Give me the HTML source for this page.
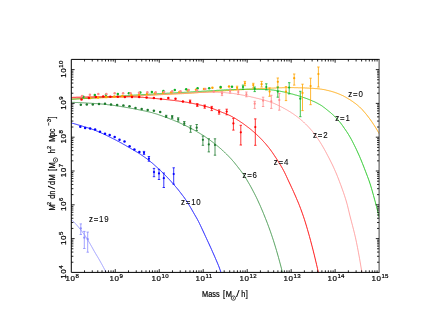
<!DOCTYPE html><html><head><meta charset="utf-8"><title>Halo mass function</title><style>html,body{margin:0;padding:0;background:#fff}svg{display:block}text{font-family:"Liberation Sans",sans-serif;fill:#000}</style></head><body>
<svg width="430" height="332" viewBox="0 0 430 332">
<rect width="430" height="332" fill="#fff"/>
<defs><clipPath id="c"><rect x="71.3" y="59.4" width="307.8" height="212.99999999999997"/></clipPath></defs>
<g clip-path="url(#c)" fill="none" stroke-linejoin="round">
<path d="M71.5,99.1 L72.5,99.1 L73.5,99.0 L74.5,99.0 L75.5,98.9 L76.5,98.9 L77.5,98.9 L78.5,98.8 L79.5,98.8 L80.5,98.7 L81.5,98.7 L82.5,98.7 L83.5,98.6 L84.5,98.6 L85.5,98.5 L86.5,98.5 L87.5,98.4 L88.5,98.4 L89.5,98.4 L90.5,98.3 L91.5,98.3 L92.5,98.2 L93.5,98.2 L94.5,98.1 L95.5,98.1 L96.5,98.1 L97.5,98.0 L98.5,98.0 L99.5,97.9 L100.5,97.9 L101.5,97.8 L102.5,97.8 L103.5,97.7 L104.5,97.7 L105.5,97.7 L106.5,97.6 L107.5,97.6 L108.5,97.5 L109.5,97.5 L110.5,97.4 L111.5,97.4 L112.5,97.3 L113.5,97.3 L114.5,97.2 L115.5,97.2 L116.5,97.1 L117.5,97.1 L118.5,97.1 L119.5,97.0 L120.5,97.0 L121.5,96.9 L122.5,96.9 L123.5,96.8 L124.5,96.7 L125.5,96.7 L126.5,96.6 L127.5,96.6 L128.5,96.5 L129.5,96.5 L130.5,96.4 L131.5,96.4 L132.5,96.3 L133.5,96.2 L134.5,96.2 L135.5,96.1 L136.5,96.0 L137.5,96.0 L138.5,95.9 L139.5,95.8 L140.5,95.8 L141.5,95.7 L142.5,95.7 L143.5,95.6 L144.5,95.5 L145.5,95.5 L146.5,95.4 L147.5,95.3 L148.5,95.3 L149.5,95.2 L150.5,95.2 L151.5,95.1 L152.5,95.1 L153.5,95.0 L154.5,95.0 L155.5,94.9 L156.5,94.9 L157.5,94.8 L158.5,94.8 L159.5,94.7 L160.5,94.7 L161.5,94.6 L162.5,94.6 L163.5,94.5 L164.5,94.5 L165.5,94.5 L166.5,94.4 L167.5,94.4 L168.5,94.3 L169.5,94.3 L170.5,94.2 L171.5,94.2 L172.5,94.1 L173.5,94.1 L174.5,94.0 L175.5,94.0 L176.5,93.9 L177.5,93.9 L178.5,93.8 L179.5,93.8 L180.5,93.7 L181.5,93.7 L182.5,93.6 L183.5,93.6 L184.5,93.5 L185.5,93.5 L186.5,93.4 L187.5,93.4 L188.5,93.3 L189.5,93.2 L190.5,93.2 L191.5,93.1 L192.5,93.0 L193.5,93.0 L194.5,92.9 L195.5,92.8 L196.5,92.8 L197.5,92.7 L198.5,92.6 L199.5,92.5 L200.5,92.5 L201.5,92.4 L202.5,92.3 L203.5,92.3 L204.5,92.2 L205.5,92.1 L206.5,92.0 L207.5,92.0 L208.5,91.9 L209.5,91.8 L210.5,91.8 L211.5,91.7 L212.5,91.6 L213.5,91.6 L214.5,91.5 L215.5,91.4 L216.5,91.3 L217.5,91.3 L218.5,91.2 L219.5,91.1 L220.5,91.1 L221.5,91.0 L222.5,90.9 L223.5,90.8 L224.5,90.8 L225.5,90.7 L226.5,90.6 L227.5,90.6 L228.5,90.5 L229.5,90.4 L230.5,90.4 L231.5,90.3 L232.5,90.2 L233.5,90.2 L234.5,90.1 L235.5,90.1 L236.5,90.0 L237.5,89.9 L238.5,89.9 L239.5,89.8 L240.5,89.7 L241.5,89.7 L242.5,89.6 L243.5,89.6 L244.5,89.5 L245.5,89.5 L246.5,89.4 L247.5,89.3 L248.5,89.3 L249.5,89.2 L250.5,89.2 L251.5,89.1 L252.5,89.1 L253.5,89.0 L254.5,89.0 L255.5,88.9 L256.5,88.8 L257.5,88.8 L258.5,88.7 L259.5,88.7 L260.5,88.6 L261.5,88.6 L262.5,88.5 L263.5,88.5 L264.5,88.4 L265.5,88.4 L266.5,88.3 L267.5,88.3 L268.5,88.3 L269.5,88.2 L270.5,88.2 L271.5,88.1 L272.5,88.1 L273.5,88.1 L274.5,88.0 L275.5,88.0 L276.5,87.9 L277.5,87.9 L278.5,87.9 L279.5,87.8 L280.5,87.8 L281.5,87.8 L282.5,87.7 L283.5,87.7 L284.5,87.7 L285.5,87.6 L286.5,87.6 L287.5,87.6 L288.5,87.6 L289.5,87.6 L290.5,87.6 L291.5,87.6 L292.5,87.6 L293.5,87.6 L294.5,87.7 L295.5,87.7 L296.5,87.7 L297.5,87.7 L298.5,87.8 L299.5,87.8 L300.5,87.8 L301.5,87.8 L302.5,87.9 L303.5,87.9 L304.5,87.9 L305.5,88.0 L306.5,88.0 L307.5,88.1 L308.5,88.1 L309.5,88.2 L310.5,88.2 L311.5,88.3 L312.5,88.3 L313.5,88.4 L314.5,88.5 L315.5,88.6 L316.5,88.6 L317.5,88.7 L318.5,88.8 L319.5,88.9 L320.5,89.1 L321.5,89.2 L322.5,89.4 L323.5,89.5 L324.5,89.7 L325.5,89.9 L326.5,90.2 L327.5,90.4 L328.5,90.6 L329.5,90.9 L330.5,91.1 L331.5,91.4 L332.5,91.7 L333.5,92.0 L334.5,92.3 L335.5,92.7 L336.5,93.0 L337.5,93.4 L338.5,93.8 L339.5,94.2 L340.5,94.6 L341.5,95.1 L342.5,95.5 L343.5,96.0 L344.5,96.6 L345.5,97.1 L346.5,97.7 L347.5,98.3 L348.5,98.9 L349.5,99.5 L350.5,100.1 L351.5,100.8 L352.5,101.4 L353.5,102.2 L354.5,102.9 L355.5,103.6 L356.5,104.4 L357.5,105.2 L358.5,106.1 L359.5,106.9 L360.5,107.9 L361.5,108.9 L362.5,109.9 L363.5,111.1 L364.5,112.2 L365.5,113.4 L366.5,114.6 L367.5,115.9 L368.5,117.2 L369.5,118.5 L370.5,119.9 L371.5,121.3 L372.5,122.8 L373.5,124.3 L374.5,125.8 L375.5,127.4 L376.5,129.0 L377.5,130.7 L378.5,132.4 L379.4,134.0" stroke="#ffa500" stroke-width="0.9"/>
<path d="M71.5,99.2 L72.5,99.1 L73.5,99.1 L74.5,99.0 L75.5,99.0 L76.5,98.9 L77.5,98.8 L78.5,98.8 L79.5,98.7 L80.5,98.6 L81.5,98.6 L82.5,98.5 L83.5,98.5 L84.5,98.4 L85.5,98.3 L86.5,98.3 L87.5,98.2 L88.5,98.1 L89.5,98.1 L90.5,98.0 L91.5,97.9 L92.5,97.9 L93.5,97.8 L94.5,97.8 L95.5,97.7 L96.5,97.6 L97.5,97.6 L98.5,97.5 L99.5,97.4 L100.5,97.4 L101.5,97.3 L102.5,97.2 L103.5,97.2 L104.5,97.1 L105.5,97.0 L106.5,97.0 L107.5,96.9 L108.5,96.8 L109.5,96.8 L110.5,96.7 L111.5,96.6 L112.5,96.6 L113.5,96.5 L114.5,96.4 L115.5,96.4 L116.5,96.3 L117.5,96.2 L118.5,96.2 L119.5,96.1 L120.5,96.0 L121.5,96.0 L122.5,95.9 L123.5,95.8 L124.5,95.8 L125.5,95.7 L126.5,95.7 L127.5,95.6 L128.5,95.5 L129.5,95.5 L130.5,95.4 L131.5,95.3 L132.5,95.3 L133.5,95.2 L134.5,95.1 L135.5,95.1 L136.5,95.0 L137.5,95.0 L138.5,94.9 L139.5,94.8 L140.5,94.8 L141.5,94.7 L142.5,94.6 L143.5,94.6 L144.5,94.5 L145.5,94.5 L146.5,94.4 L147.5,94.3 L148.5,94.3 L149.5,94.2 L150.5,94.2 L151.5,94.1 L152.5,94.1 L153.5,94.0 L154.5,93.9 L155.5,93.9 L156.5,93.8 L157.5,93.8 L158.5,93.7 L159.5,93.7 L160.5,93.6 L161.5,93.6 L162.5,93.5 L163.5,93.5 L164.5,93.4 L165.5,93.4 L166.5,93.3 L167.5,93.2 L168.5,93.2 L169.5,93.1 L170.5,93.1 L171.5,93.0 L172.5,93.0 L173.5,92.9 L174.5,92.9 L175.5,92.8 L176.5,92.8 L177.5,92.7 L178.5,92.7 L179.5,92.6 L180.5,92.6 L181.5,92.5 L182.5,92.4 L183.5,92.4 L184.5,92.3 L185.5,92.3 L186.5,92.2 L187.5,92.2 L188.5,92.1 L189.5,92.0 L190.5,92.0 L191.5,91.9 L192.5,91.9 L193.5,91.8 L194.5,91.7 L195.5,91.7 L196.5,91.6 L197.5,91.6 L198.5,91.5 L199.5,91.4 L200.5,91.4 L201.5,91.3 L202.5,91.2 L203.5,91.2 L204.5,91.1 L205.5,91.1 L206.5,91.0 L207.5,90.9 L208.5,90.9 L209.5,90.8 L210.5,90.8 L211.5,90.7 L212.5,90.7 L213.5,90.6 L214.5,90.5 L215.5,90.5 L216.5,90.4 L217.5,90.3 L218.5,90.3 L219.5,90.2 L220.5,90.2 L221.5,90.1 L222.5,90.0 L223.5,90.0 L224.5,89.9 L225.5,89.9 L226.5,89.8 L227.5,89.8 L228.5,89.8 L229.5,89.7 L230.5,89.7 L231.5,89.6 L232.5,89.6 L233.5,89.6 L234.5,89.5 L235.5,89.5 L236.5,89.5 L237.5,89.4 L238.5,89.4 L239.5,89.4 L240.5,89.3 L241.5,89.3 L242.5,89.3 L243.5,89.3 L244.5,89.3 L245.5,89.2 L246.5,89.2 L247.5,89.2 L248.5,89.2 L249.5,89.2 L250.5,89.2 L251.5,89.2 L252.5,89.2 L253.5,89.2 L254.5,89.2 L255.5,89.3 L256.5,89.3 L257.5,89.3 L258.5,89.3 L259.5,89.4 L260.5,89.4 L261.5,89.4 L262.5,89.5 L263.5,89.5 L264.5,89.5 L265.5,89.6 L266.5,89.6 L267.5,89.7 L268.5,89.7 L269.5,89.8 L270.5,89.8 L271.5,89.9 L272.5,90.0 L273.5,90.1 L274.5,90.3 L275.5,90.4 L276.5,90.6 L277.5,90.8 L278.5,90.9 L279.5,91.1 L280.5,91.3 L281.5,91.5 L282.5,91.7 L283.5,91.9 L284.5,92.1 L285.5,92.4 L286.5,92.6 L287.5,92.9 L288.5,93.1 L289.5,93.4 L290.5,93.6 L291.5,93.9 L292.5,94.1 L293.5,94.4 L294.5,94.7 L295.5,95.0 L296.5,95.2 L297.5,95.5 L298.5,95.8 L299.5,96.1 L300.5,96.5 L301.5,96.8 L302.5,97.1 L303.5,97.5 L304.5,97.8 L305.5,98.2 L306.5,98.5 L307.5,98.9 L308.5,99.3 L309.5,99.7 L310.5,100.1 L311.5,100.5 L312.5,101.0 L313.5,101.4 L314.5,101.8 L315.5,102.3 L316.5,102.8 L317.5,103.3 L318.5,103.9 L319.5,104.4 L320.5,105.0 L321.5,105.6 L322.5,106.3 L323.5,107.1 L324.5,107.8 L325.5,108.6 L326.5,109.4 L327.5,110.2 L328.5,111.0 L329.5,111.8 L330.5,112.6 L331.5,113.5 L332.5,114.4 L333.5,115.3 L334.5,116.2 L335.5,117.2 L336.5,118.2 L337.5,119.3 L338.5,120.5 L339.5,121.7 L340.5,122.9 L341.5,124.2 L342.5,125.6 L343.5,127.0 L344.5,128.5 L345.5,129.9 L346.5,131.4 L347.5,132.9 L348.5,134.5 L349.5,136.2 L350.5,137.9 L351.5,139.7 L352.5,141.6 L353.5,143.6 L354.5,145.6 L355.5,147.6 L356.5,149.7 L357.5,151.9 L358.5,154.1 L359.5,156.3 L360.5,158.7 L361.5,161.1 L362.5,163.6 L363.5,166.1 L364.5,168.7 L365.5,171.3 L366.5,173.9 L367.5,176.5 L368.5,179.2 L369.5,182.0 L370.5,185.1 L371.5,188.4 L372.5,191.9 L373.5,195.5 L374.5,199.2 L375.5,202.8 L376.5,206.6 L377.5,210.5 L378.5,214.4 L379.4,218.0" stroke="#1cc41c" stroke-width="0.9"/>
<path d="M71.5,98.1 L72.5,98.1 L73.5,98.0 L74.5,98.0 L75.5,98.0 L76.5,98.0 L77.5,97.9 L78.5,97.9 L79.5,97.9 L80.5,97.8 L81.5,97.8 L82.5,97.8 L83.5,97.7 L84.5,97.7 L85.5,97.7 L86.5,97.6 L87.5,97.6 L88.5,97.6 L89.5,97.5 L90.5,97.5 L91.5,97.5 L92.5,97.5 L93.5,97.4 L94.5,97.4 L95.5,97.4 L96.5,97.3 L97.5,97.3 L98.5,97.3 L99.5,97.2 L100.5,97.2 L101.5,97.1 L102.5,97.1 L103.5,97.1 L104.5,97.0 L105.5,97.0 L106.5,97.0 L107.5,96.9 L108.5,96.9 L109.5,96.9 L110.5,96.8 L111.5,96.8 L112.5,96.8 L113.5,96.7 L114.5,96.7 L115.5,96.7 L116.5,96.6 L117.5,96.6 L118.5,96.5 L119.5,96.5 L120.5,96.5 L121.5,96.4 L122.5,96.4 L123.5,96.3 L124.5,96.3 L125.5,96.3 L126.5,96.2 L127.5,96.2 L128.5,96.1 L129.5,96.1 L130.5,96.0 L131.5,96.0 L132.5,95.9 L133.5,95.9 L134.5,95.8 L135.5,95.8 L136.5,95.7 L137.5,95.7 L138.5,95.6 L139.5,95.6 L140.5,95.5 L141.5,95.5 L142.5,95.4 L143.5,95.4 L144.5,95.3 L145.5,95.2 L146.5,95.2 L147.5,95.1 L148.5,95.1 L149.5,95.0 L150.5,95.0 L151.5,94.9 L152.5,94.9 L153.5,94.8 L154.5,94.8 L155.5,94.7 L156.5,94.7 L157.5,94.6 L158.5,94.5 L159.5,94.5 L160.5,94.4 L161.5,94.4 L162.5,94.3 L163.5,94.3 L164.5,94.2 L165.5,94.2 L166.5,94.1 L167.5,94.1 L168.5,94.0 L169.5,94.0 L170.5,93.9 L171.5,93.9 L172.5,93.8 L173.5,93.7 L174.5,93.7 L175.5,93.6 L176.5,93.6 L177.5,93.5 L178.5,93.5 L179.5,93.4 L180.5,93.4 L181.5,93.3 L182.5,93.3 L183.5,93.2 L184.5,93.2 L185.5,93.1 L186.5,93.1 L187.5,93.0 L188.5,92.9 L189.5,92.9 L190.5,92.8 L191.5,92.8 L192.5,92.7 L193.5,92.7 L194.5,92.6 L195.5,92.6 L196.5,92.5 L197.5,92.5 L198.5,92.4 L199.5,92.4 L200.5,92.4 L201.5,92.4 L202.5,92.3 L203.5,92.3 L204.5,92.3 L205.5,92.3 L206.5,92.2 L207.5,92.2 L208.5,92.2 L209.5,92.2 L210.5,92.2 L211.5,92.2 L212.5,92.2 L213.5,92.2 L214.5,92.3 L215.5,92.3 L216.5,92.3 L217.5,92.3 L218.5,92.4 L219.5,92.4 L220.5,92.4 L221.5,92.5 L222.5,92.5 L223.5,92.6 L224.5,92.6 L225.5,92.7 L226.5,92.8 L227.5,92.9 L228.5,93.0 L229.5,93.1 L230.5,93.2 L231.5,93.3 L232.5,93.4 L233.5,93.5 L234.5,93.7 L235.5,93.8 L236.5,94.0 L237.5,94.2 L238.5,94.4 L239.5,94.5 L240.5,94.7 L241.5,94.9 L242.5,95.1 L243.5,95.3 L244.5,95.5 L245.5,95.7 L246.5,95.9 L247.5,96.1 L248.5,96.3 L249.5,96.5 L250.5,96.7 L251.5,97.0 L252.5,97.2 L253.5,97.4 L254.5,97.7 L255.5,97.9 L256.5,98.2 L257.5,98.4 L258.5,98.6 L259.5,98.9 L260.5,99.1 L261.5,99.4 L262.5,99.7 L263.5,99.9 L264.5,100.2 L265.5,100.5 L266.5,100.8 L267.5,101.1 L268.5,101.4 L269.5,101.7 L270.5,102.1 L271.5,102.4 L272.5,102.8 L273.5,103.2 L274.5,103.6 L275.5,104.1 L276.5,104.5 L277.5,105.0 L278.5,105.5 L279.5,106.0 L280.5,106.5 L281.5,107.0 L282.5,107.5 L283.5,108.1 L284.5,108.6 L285.5,109.2 L286.5,109.7 L287.5,110.3 L288.5,110.9 L289.5,111.5 L290.5,112.1 L291.5,112.8 L292.5,113.4 L293.5,114.1 L294.5,114.8 L295.5,115.5 L296.5,116.3 L297.5,117.0 L298.5,117.8 L299.5,118.6 L300.5,119.4 L301.5,120.3 L302.5,121.1 L303.5,122.0 L304.5,123.0 L305.5,123.9 L306.5,124.9 L307.5,125.9 L308.5,127.0 L309.5,128.0 L310.5,129.2 L311.5,130.3 L312.5,131.5 L313.5,132.8 L314.5,134.1 L315.5,135.4 L316.5,136.8 L317.5,138.3 L318.5,139.7 L319.5,141.2 L320.5,142.8 L321.5,144.4 L322.5,146.1 L323.5,147.8 L324.5,149.6 L325.5,151.4 L326.5,153.3 L327.5,155.2 L328.5,157.1 L329.5,159.0 L330.5,161.0 L331.5,163.0 L332.5,165.0 L333.5,167.2 L334.5,169.4 L335.5,171.7 L336.5,174.0 L337.5,176.5 L338.5,179.0 L339.5,181.7 L340.5,184.3 L341.5,187.0 L342.5,189.8 L343.5,192.6 L344.5,195.6 L345.5,198.7 L346.5,202.0 L347.5,205.7 L348.5,209.8 L349.5,214.0 L350.5,218.0 L351.5,221.8 L352.5,225.6 L353.5,229.5 L354.5,233.5 L355.5,237.8 L356.5,242.5 L357.5,247.5 L358.5,252.8 L359.5,258.3 L360.5,264.1 L361.5,270.1 L361.9,272.6" stroke="#ff8a8a" stroke-width="0.75"/>
<path d="M71.5,97.4 L72.5,97.4 L73.5,97.3 L74.5,97.3 L75.5,97.3 L76.5,97.2 L77.5,97.2 L78.5,97.2 L79.5,97.2 L80.5,97.1 L81.5,97.1 L82.5,97.1 L83.5,97.0 L84.5,97.0 L85.5,97.0 L86.5,97.0 L87.5,96.9 L88.5,96.9 L89.5,96.9 L90.5,96.9 L91.5,96.9 L92.5,96.9 L93.5,96.8 L94.5,96.8 L95.5,96.8 L96.5,96.8 L97.5,96.8 L98.5,96.8 L99.5,96.8 L100.5,96.8 L101.5,96.8 L102.5,96.8 L103.5,96.8 L104.5,96.8 L105.5,96.8 L106.5,96.8 L107.5,96.8 L108.5,96.8 L109.5,96.8 L110.5,96.8 L111.5,96.8 L112.5,96.8 L113.5,96.8 L114.5,96.8 L115.5,96.8 L116.5,96.8 L117.5,96.8 L118.5,96.8 L119.5,96.8 L120.5,96.8 L121.5,96.8 L122.5,96.8 L123.5,96.8 L124.5,96.8 L125.5,96.8 L126.5,96.8 L127.5,96.8 L128.5,96.8 L129.5,96.8 L130.5,96.8 L131.5,96.9 L132.5,96.9 L133.5,96.9 L134.5,97.0 L135.5,97.0 L136.5,97.0 L137.5,97.1 L138.5,97.1 L139.5,97.2 L140.5,97.2 L141.5,97.3 L142.5,97.3 L143.5,97.4 L144.5,97.5 L145.5,97.6 L146.5,97.7 L147.5,97.8 L148.5,97.9 L149.5,98.0 L150.5,98.1 L151.5,98.2 L152.5,98.3 L153.5,98.4 L154.5,98.4 L155.5,98.5 L156.5,98.6 L157.5,98.7 L158.5,98.8 L159.5,98.9 L160.5,99.0 L161.5,99.1 L162.5,99.2 L163.5,99.3 L164.5,99.4 L165.5,99.5 L166.5,99.6 L167.5,99.7 L168.5,99.8 L169.5,99.9 L170.5,100.1 L171.5,100.2 L172.5,100.3 L173.5,100.4 L174.5,100.5 L175.5,100.7 L176.5,100.8 L177.5,100.9 L178.5,101.0 L179.5,101.2 L180.5,101.3 L181.5,101.5 L182.5,101.6 L183.5,101.8 L184.5,101.9 L185.5,102.1 L186.5,102.2 L187.5,102.4 L188.5,102.6 L189.5,102.8 L190.5,103.0 L191.5,103.2 L192.5,103.4 L193.5,103.6 L194.5,103.8 L195.5,104.0 L196.5,104.2 L197.5,104.4 L198.5,104.7 L199.5,104.9 L200.5,105.1 L201.5,105.3 L202.5,105.6 L203.5,105.8 L204.5,106.1 L205.5,106.3 L206.5,106.6 L207.5,106.9 L208.5,107.2 L209.5,107.5 L210.5,107.8 L211.5,108.1 L212.5,108.5 L213.5,108.9 L214.5,109.3 L215.5,109.7 L216.5,110.1 L217.5,110.5 L218.5,110.9 L219.5,111.3 L220.5,111.7 L221.5,112.1 L222.5,112.5 L223.5,112.9 L224.5,113.2 L225.5,113.6 L226.5,114.0 L227.5,114.5 L228.5,114.9 L229.5,115.4 L230.5,115.8 L231.5,116.4 L232.5,116.9 L233.5,117.5 L234.5,118.0 L235.5,118.6 L236.5,119.3 L237.5,119.9 L238.5,120.5 L239.5,121.2 L240.5,121.9 L241.5,122.5 L242.5,123.2 L243.5,123.9 L244.5,124.6 L245.5,125.4 L246.5,126.1 L247.5,126.9 L248.5,127.6 L249.5,128.4 L250.5,129.2 L251.5,130.0 L252.5,130.9 L253.5,131.7 L254.5,132.6 L255.5,133.5 L256.5,134.4 L257.5,135.3 L258.5,136.3 L259.5,137.3 L260.5,138.3 L261.5,139.3 L262.5,140.4 L263.5,141.5 L264.5,142.6 L265.5,143.7 L266.5,144.9 L267.5,146.1 L268.5,147.3 L269.5,148.6 L270.5,149.9 L271.5,151.3 L272.5,152.7 L273.5,154.2 L274.5,155.7 L275.5,157.2 L276.5,158.7 L277.5,160.3 L278.5,161.9 L279.5,163.5 L280.5,165.1 L281.5,166.8 L282.5,168.5 L283.5,170.4 L284.5,172.3 L285.5,174.4 L286.5,176.5 L287.5,178.7 L288.5,180.9 L289.5,183.0 L290.5,185.1 L291.5,187.3 L292.5,189.4 L293.5,191.6 L294.5,193.9 L295.5,196.1 L296.5,198.5 L297.5,200.8 L298.5,203.2 L299.5,205.7 L300.5,208.3 L301.5,211.0 L302.5,213.8 L303.5,216.7 L304.5,219.7 L305.5,222.9 L306.5,226.2 L307.5,229.6 L308.5,233.1 L309.5,236.6 L310.5,240.3 L311.5,244.1 L312.5,247.9 L313.5,251.9 L314.5,255.9 L315.5,260.1 L316.5,264.3 L317.5,268.6 L318.4,272.6" stroke="#ff0000" stroke-width="0.9"/>
<path d="M71.5,102.3 L72.5,102.3 L73.5,102.4 L74.5,102.4 L75.5,102.5 L76.5,102.5 L77.5,102.5 L78.5,102.6 L79.5,102.6 L80.5,102.7 L81.5,102.7 L82.5,102.8 L83.5,102.8 L84.5,102.9 L85.5,102.9 L86.5,103.0 L87.5,103.1 L88.5,103.1 L89.5,103.2 L90.5,103.2 L91.5,103.3 L92.5,103.4 L93.5,103.4 L94.5,103.5 L95.5,103.6 L96.5,103.6 L97.5,103.7 L98.5,103.8 L99.5,103.9 L100.5,103.9 L101.5,104.0 L102.5,104.1 L103.5,104.2 L104.5,104.3 L105.5,104.4 L106.5,104.5 L107.5,104.7 L108.5,104.8 L109.5,104.9 L110.5,105.0 L111.5,105.1 L112.5,105.3 L113.5,105.4 L114.5,105.5 L115.5,105.7 L116.5,105.8 L117.5,106.0 L118.5,106.1 L119.5,106.3 L120.5,106.4 L121.5,106.6 L122.5,106.8 L123.5,106.9 L124.5,107.1 L125.5,107.3 L126.5,107.5 L127.5,107.6 L128.5,107.8 L129.5,108.0 L130.5,108.2 L131.5,108.4 L132.5,108.5 L133.5,108.7 L134.5,108.9 L135.5,109.1 L136.5,109.3 L137.5,109.5 L138.5,109.7 L139.5,109.9 L140.5,110.1 L141.5,110.3 L142.5,110.5 L143.5,110.7 L144.5,110.9 L145.5,111.1 L146.5,111.4 L147.5,111.6 L148.5,111.8 L149.5,112.0 L150.5,112.3 L151.5,112.5 L152.5,112.8 L153.5,113.1 L154.5,113.4 L155.5,113.7 L156.5,114.0 L157.5,114.3 L158.5,114.7 L159.5,115.0 L160.5,115.4 L161.5,115.7 L162.5,116.1 L163.5,116.5 L164.5,116.8 L165.5,117.2 L166.5,117.5 L167.5,117.9 L168.5,118.3 L169.5,118.7 L170.5,119.1 L171.5,119.4 L172.5,119.8 L173.5,120.2 L174.5,120.7 L175.5,121.1 L176.5,121.5 L177.5,121.9 L178.5,122.4 L179.5,122.8 L180.5,123.3 L181.5,123.7 L182.5,124.2 L183.5,124.7 L184.5,125.1 L185.5,125.6 L186.5,126.1 L187.5,126.6 L188.5,127.1 L189.5,127.6 L190.5,128.1 L191.5,128.7 L192.5,129.2 L193.5,129.7 L194.5,130.3 L195.5,130.8 L196.5,131.4 L197.5,132.0 L198.5,132.6 L199.5,133.2 L200.5,133.8 L201.5,134.4 L202.5,135.0 L203.5,135.7 L204.5,136.3 L205.5,137.0 L206.5,137.7 L207.5,138.4 L208.5,139.1 L209.5,139.8 L210.5,140.5 L211.5,141.3 L212.5,142.0 L213.5,142.8 L214.5,143.6 L215.5,144.4 L216.5,145.2 L217.5,146.0 L218.5,146.8 L219.5,147.7 L220.5,148.5 L221.5,149.4 L222.5,150.3 L223.5,151.3 L224.5,152.2 L225.5,153.2 L226.5,154.1 L227.5,155.1 L228.5,156.1 L229.5,157.2 L230.5,158.2 L231.5,159.3 L232.5,160.5 L233.5,161.6 L234.5,162.8 L235.5,164.1 L236.5,165.3 L237.5,166.6 L238.5,167.9 L239.5,169.2 L240.5,170.4 L241.5,171.8 L242.5,173.1 L243.5,174.6 L244.5,176.1 L245.5,177.7 L246.5,179.3 L247.5,181.0 L248.5,182.7 L249.5,184.4 L250.5,186.2 L251.5,188.0 L252.5,189.9 L253.5,191.8 L254.5,193.7 L255.5,195.7 L256.5,197.7 L257.5,199.8 L258.5,202.0 L259.5,204.2 L260.5,206.4 L261.5,208.8 L262.5,211.1 L263.5,213.5 L264.5,216.0 L265.5,218.5 L266.5,221.0 L267.5,223.6 L268.5,226.3 L269.5,229.0 L270.5,231.8 L271.5,234.7 L272.5,237.7 L273.5,240.7 L274.5,243.9 L275.5,247.2 L276.5,250.5 L277.5,254.0 L278.5,257.5 L279.5,261.2 L280.5,264.9 L281.5,268.7 L282.5,272.6" stroke="#2e8b3a" stroke-width="0.8"/>
<path d="M71.5,123.0 L72.5,123.3 L73.5,123.5 L74.5,123.8 L75.5,124.1 L76.5,124.4 L77.5,124.7 L78.5,125.0 L79.5,125.3 L80.5,125.5 L81.5,125.8 L82.5,126.2 L83.5,126.5 L84.5,126.8 L85.5,127.1 L86.5,127.4 L87.5,127.7 L88.5,128.0 L89.5,128.3 L90.5,128.7 L91.5,129.0 L92.5,129.4 L93.5,129.7 L94.5,130.1 L95.5,130.5 L96.5,130.9 L97.5,131.3 L98.5,131.8 L99.5,132.2 L100.5,132.6 L101.5,133.1 L102.5,133.5 L103.5,134.0 L104.5,134.5 L105.5,134.9 L106.5,135.4 L107.5,135.9 L108.5,136.4 L109.5,136.9 L110.5,137.4 L111.5,137.9 L112.5,138.4 L113.5,138.9 L114.5,139.4 L115.5,139.9 L116.5,140.4 L117.5,141.0 L118.5,141.5 L119.5,142.0 L120.5,142.6 L121.5,143.1 L122.5,143.7 L123.5,144.3 L124.5,144.8 L125.5,145.4 L126.5,146.0 L127.5,146.6 L128.5,147.2 L129.5,147.7 L130.5,148.3 L131.5,148.9 L132.5,149.5 L133.5,150.1 L134.5,150.6 L135.5,151.2 L136.5,151.8 L137.5,152.4 L138.5,153.0 L139.5,153.7 L140.5,154.3 L141.5,155.0 L142.5,155.7 L143.5,156.4 L144.5,157.1 L145.5,157.8 L146.5,158.5 L147.5,159.3 L148.5,160.1 L149.5,160.9 L150.5,161.7 L151.5,162.5 L152.5,163.3 L153.5,164.2 L154.5,165.1 L155.5,166.0 L156.5,166.9 L157.5,167.8 L158.5,168.7 L159.5,169.6 L160.5,170.6 L161.5,171.6 L162.5,172.5 L163.5,173.5 L164.5,174.5 L165.5,175.5 L166.5,176.6 L167.5,177.6 L168.5,178.7 L169.5,179.7 L170.5,180.8 L171.5,181.9 L172.5,183.1 L173.5,184.2 L174.5,185.4 L175.5,186.5 L176.5,187.7 L177.5,188.9 L178.5,190.1 L179.5,191.4 L180.5,192.7 L181.5,194.0 L182.5,195.3 L183.5,196.6 L184.5,198.0 L185.5,199.4 L186.5,200.9 L187.5,202.4 L188.5,204.0 L189.5,205.7 L190.5,207.4 L191.5,209.1 L192.5,210.9 L193.5,212.6 L194.5,214.4 L195.5,216.1 L196.5,217.8 L197.5,219.6 L198.5,221.5 L199.5,223.5 L200.5,225.6 L201.5,227.7 L202.5,229.9 L203.5,232.0 L204.5,234.2 L205.5,236.4 L206.5,238.5 L207.5,240.7 L208.5,242.8 L209.5,245.0 L210.5,247.2 L211.5,249.4 L212.5,251.7 L213.5,253.9 L214.5,256.2 L215.5,258.5 L216.5,260.8 L217.5,263.2 L218.5,265.6 L219.5,268.2 L220.5,271.1 L221.0,272.6" stroke="#1010ff" stroke-width="0.9"/>
<path d="M71.5,219.7 L72.5,220.6 L73.5,221.6 L74.5,222.7 L75.5,223.7 L76.5,224.8 L77.5,225.9 L78.5,227.1 L79.5,228.3 L80.5,229.5 L81.5,230.8 L82.5,232.1 L83.5,233.5 L84.5,234.9 L85.5,236.4 L86.5,237.9 L87.5,239.5 L88.5,241.2 L89.5,242.8 L90.5,244.6 L91.5,246.3 L92.5,248.1 L93.5,249.9 L94.5,251.7 L95.5,253.4 L96.5,255.1 L97.5,256.7 L98.5,258.4 L99.5,260.1 L100.5,261.9 L101.5,263.7 L102.5,265.5 L103.5,267.4 L104.5,269.3 L105.5,271.2 L106.2,272.6" stroke="#8a8aff" stroke-width="0.75"/>
</g>
<g fill="#ffa500" stroke="#ffa500" stroke-width="0.8">
<circle cx="90.3" cy="97.9" r="1.25" stroke="none"/>
<circle cx="98.0" cy="97.4" r="1.25" stroke="none"/>
<circle cx="106.2" cy="97.0" r="1.25" stroke="none"/>
<circle cx="114.3" cy="96.5" r="1.25" stroke="none"/>
<circle cx="122.4" cy="96.0" r="1.25" stroke="none"/>
<circle cx="131.3" cy="95.3" r="1.25" stroke="none"/>
<circle cx="139.0" cy="94.7" r="1.25" stroke="none"/>
<circle cx="147.0" cy="94.0" r="1.25" stroke="none"/>
<circle cx="155.0" cy="93.3" r="1.25" stroke="none"/>
<circle cx="163.1" cy="92.8" r="1.25" stroke="none"/>
<circle cx="171.3" cy="92.3" r="1.25" stroke="none"/>
<circle cx="179.4" cy="91.9" r="1.25" stroke="none"/>
<circle cx="187.9" cy="90.6" r="1.25" stroke="none"/>
<circle cx="196.0" cy="89.7" r="1.25" stroke="none"/>
<circle cx="204.0" cy="89.0" r="1.25" stroke="none"/>
<circle cx="212.4" cy="87.8" r="1.25" stroke="none"/>
<circle cx="220.6" cy="87.8" r="1.25" stroke="none"/>
<circle cx="229.0" cy="86.4" r="1.25" stroke="none"/>
<circle cx="237.1" cy="87.8" r="1.1" stroke="none"/>
<path d="M237.1,86.2V89.6M235.9,86.2h2.4M235.9,89.6h2.4" fill="none"/>
<circle cx="244.9" cy="83.3" r="1.1" stroke="none"/>
<path d="M244.9,81.4V85.7M243.7,81.4h2.4M243.7,85.7h2.4" fill="none"/>
<circle cx="253.3" cy="85.1" r="1.1" stroke="none"/>
<path d="M253.3,83.3V87.9M252.1,83.3h2.4M252.1,87.9h2.4" fill="none"/>
<circle cx="261.6" cy="84.2" r="1.1" stroke="none"/>
<path d="M261.6,81.4V87.0M260.4,81.4h2.4M260.4,87.0h2.4" fill="none"/>
<circle cx="269.6" cy="91.6" r="1.1" stroke="none"/>
<path d="M269.6,87.9V96.3M268.4,87.9h2.4M268.4,96.3h2.4" fill="none"/>
<circle cx="277.8" cy="81.8" r="1.1" stroke="none"/>
<path d="M277.8,78.0V87.3M276.6,78.0h2.4M276.6,87.3h2.4" fill="none"/>
<circle cx="286.0" cy="91.6" r="1.1" stroke="none"/>
<path d="M286.0,86.6V100.6M284.8,86.6h2.4M284.8,100.6h2.4" fill="none"/>
<circle cx="294.2" cy="78.2" r="1.1" stroke="none"/>
<path d="M294.2,74.0V85.1M293.0,74.0h2.4M293.0,85.1h2.4" fill="none"/>
<circle cx="302.5" cy="92.9" r="1.1" stroke="none"/>
<path d="M302.5,84.2V110.6M301.3,84.2h2.4M301.3,110.6h2.4" fill="none"/>
<circle cx="310.6" cy="86.0" r="1.1" stroke="none"/>
<path d="M310.6,78.2V104.7M309.4,78.2h2.4M309.4,104.7h2.4" fill="none"/>
<circle cx="318.4" cy="74.0" r="1.1" stroke="none"/>
<path d="M318.4,67.0V87.0M317.2,67.0h2.4M317.2,87.0h2.4" fill="none"/>
</g>
<g fill="#10b428" stroke="#10b428" stroke-width="0.8">
<circle cx="83.3" cy="96.7" r="1.25" stroke="none"/>
<circle cx="94.8" cy="94.9" r="1.25" stroke="none"/>
<circle cx="106.0" cy="94.7" r="1.25" stroke="none"/>
<circle cx="117.8" cy="94.0" r="1.25" stroke="none"/>
<circle cx="128.9" cy="93.3" r="1.25" stroke="none"/>
<circle cx="140.3" cy="92.6" r="1.25" stroke="none"/>
<circle cx="151.9" cy="91.9" r="1.25" stroke="none"/>
<circle cx="163.4" cy="90.9" r="1.25" stroke="none"/>
<circle cx="174.8" cy="90.0" r="1.25" stroke="none"/>
<circle cx="186.2" cy="89.2" r="1.25" stroke="none"/>
<circle cx="197.6" cy="88.3" r="1.25" stroke="none"/>
<circle cx="209.2" cy="88.3" r="1.25" stroke="none"/>
<circle cx="220.6" cy="86.9" r="1.25" stroke="none"/>
<circle cx="232.0" cy="86.7" r="1.25" stroke="none"/>
<circle cx="243.0" cy="87.0" r="1.1" stroke="none"/>
<path d="M243.0,85.1V89.4M241.8,85.1h2.4M241.8,89.4h2.4" fill="none"/>
<circle cx="254.7" cy="88.8" r="1.1" stroke="none"/>
<path d="M254.7,87.0V91.6M253.5,87.0h2.4M253.5,91.6h2.4" fill="none"/>
<circle cx="266.3" cy="87.0" r="1.1" stroke="none"/>
<path d="M266.3,83.8V89.8M265.1,83.8h2.4M265.1,89.8h2.4" fill="none"/>
<circle cx="277.8" cy="91.6" r="1.1" stroke="none"/>
<path d="M277.8,87.0V97.2M276.6,87.0h2.4M276.6,97.2h2.4" fill="none"/>
<circle cx="289.2" cy="87.5" r="1.1" stroke="none"/>
<path d="M289.2,82.7V93.9M288.0,82.7h2.4M288.0,93.9h2.4" fill="none"/>
<circle cx="300.3" cy="98.7" r="1.1" stroke="none"/>
<path d="M300.3,91.3V116.7M299.1,91.3h2.4M299.1,116.7h2.4" fill="none"/>
</g>
<g fill="#ff8a8a" stroke="#ff8a8a" stroke-width="0.8">
<circle cx="82.0" cy="96.0" r="1.25" stroke="none"/>
<circle cx="89.9" cy="94.7" r="1.25" stroke="none"/>
<circle cx="98.3" cy="94.0" r="1.25" stroke="none"/>
<circle cx="106.4" cy="94.0" r="1.25" stroke="none"/>
<circle cx="114.7" cy="93.3" r="1.25" stroke="none"/>
<circle cx="123.1" cy="93.3" r="1.25" stroke="none"/>
<circle cx="130.6" cy="93.3" r="1.25" stroke="none"/>
<circle cx="139.0" cy="92.8" r="1.25" stroke="none"/>
<circle cx="147.3" cy="92.3" r="1.25" stroke="none"/>
<circle cx="155.7" cy="92.3" r="1.25" stroke="none"/>
<circle cx="164.1" cy="91.9" r="1.25" stroke="none"/>
<circle cx="172.2" cy="91.2" r="1.25" stroke="none"/>
<circle cx="180.5" cy="91.2" r="1.25" stroke="none"/>
<circle cx="188.7" cy="90.1" r="1.25" stroke="none"/>
<circle cx="197.1" cy="90.6" r="1.25" stroke="none"/>
<circle cx="205.3" cy="89.0" r="1.25" stroke="none"/>
<circle cx="213.7" cy="91.5" r="1.25" stroke="none"/>
<circle cx="222.0" cy="93.6" r="1.1" stroke="none"/>
<path d="M222.0,91.7V95.6M220.8,91.7h2.4M220.8,95.6h2.4" fill="none"/>
<circle cx="230.1" cy="91.0" r="1.1" stroke="none"/>
<path d="M230.1,89.0V93.1M228.9,89.0h2.4M228.9,93.1h2.4" fill="none"/>
<circle cx="238.3" cy="92.0" r="1.1" stroke="none"/>
<path d="M238.3,89.8V94.4M237.1,89.8h2.4M237.1,94.4h2.4" fill="none"/>
<circle cx="246.4" cy="94.4" r="1.1" stroke="none"/>
<path d="M246.4,92.0V96.8M245.2,92.0h2.4M245.2,96.8h2.4" fill="none"/>
<circle cx="254.7" cy="103.7" r="1.1" stroke="none"/>
<path d="M254.7,101.3V108.4M253.5,101.3h2.4M253.5,108.4h2.4" fill="none"/>
<circle cx="263.1" cy="100.6" r="1.1" stroke="none"/>
<path d="M263.1,97.2V106.5M261.9,97.2h2.4M261.9,106.5h2.4" fill="none"/>
<circle cx="271.3" cy="101.3" r="1.1" stroke="none"/>
<path d="M271.3,95.3V108.4M270.1,95.3h2.4M270.1,108.4h2.4" fill="none"/>
<circle cx="279.3" cy="100.0" r="1.1" stroke="none"/>
<path d="M279.3,93.5V110.2M278.1,93.5h2.4M278.1,110.2h2.4" fill="none"/>
</g>
<g fill="#ff0000" stroke="#ff0000" stroke-width="0.8">
<circle cx="81.5" cy="99.5" r="1.25" stroke="none"/>
<circle cx="88.9" cy="97.9" r="1.25" stroke="none"/>
<circle cx="95.9" cy="97.0" r="1.25" stroke="none"/>
<circle cx="103.2" cy="96.5" r="1.25" stroke="none"/>
<circle cx="110.3" cy="96.7" r="1.25" stroke="none"/>
<circle cx="117.8" cy="96.7" r="1.25" stroke="none"/>
<circle cx="124.9" cy="97.0" r="1.25" stroke="none"/>
<circle cx="132.0" cy="97.0" r="1.25" stroke="none"/>
<circle cx="139.2" cy="97.0" r="1.25" stroke="none"/>
<circle cx="146.6" cy="97.4" r="1.25" stroke="none"/>
<circle cx="153.9" cy="98.1" r="1.25" stroke="none"/>
<circle cx="161.0" cy="99.1" r="1.25" stroke="none"/>
<circle cx="168.3" cy="98.1" r="1.25" stroke="none"/>
<circle cx="175.5" cy="98.8" r="1.25" stroke="none"/>
<circle cx="182.9" cy="101.6" r="1.25" stroke="none"/>
<circle cx="190.1" cy="101.5" r="1.1" stroke="none"/>
<path d="M190.1,100.1V102.9M188.9,100.1h2.4M188.9,102.9h2.4" fill="none"/>
<circle cx="197.3" cy="105.0" r="1.1" stroke="none"/>
<path d="M197.3,103.6V106.4M196.1,103.6h2.4M196.1,106.4h2.4" fill="none"/>
<circle cx="204.7" cy="106.4" r="1.1" stroke="none"/>
<path d="M204.7,105.0V108.2M203.5,105.0h2.4M203.5,108.2h2.4" fill="none"/>
<circle cx="211.7" cy="108.2" r="1.1" stroke="none"/>
<path d="M211.7,106.4V110.6M210.5,106.4h2.4M210.5,110.6h2.4" fill="none"/>
<circle cx="219.1" cy="112.0" r="1.1" stroke="none"/>
<path d="M219.1,109.9V114.1M217.9,109.9h2.4M217.9,114.1h2.4" fill="none"/>
<circle cx="226.7" cy="111.6" r="1.1" stroke="none"/>
<path d="M226.7,109.2V114.8M225.5,109.2h2.4M225.5,114.8h2.4" fill="none"/>
<circle cx="233.4" cy="123.4" r="1.1" stroke="none"/>
<path d="M233.4,118.4V130.1M232.2,118.4h2.4M232.2,130.1h2.4" fill="none"/>
<circle cx="240.8" cy="132.3" r="1.1" stroke="none"/>
<path d="M240.8,125.3V145.0M239.6,125.3h2.4M239.6,145.0h2.4" fill="none"/>
<circle cx="255.3" cy="127.1" r="1.1" stroke="none"/>
<path d="M255.3,118.9V145.3M254.1,118.9h2.4M254.1,145.3h2.4" fill="none"/>
</g>
<g fill="#1e7a2e" stroke="#1e7a2e" stroke-width="0.8">
<circle cx="80.8" cy="104.8" r="1.25" stroke="none"/>
<circle cx="86.8" cy="104.4" r="1.25" stroke="none"/>
<circle cx="92.8" cy="104.4" r="1.25" stroke="none"/>
<circle cx="99.0" cy="104.0" r="1.25" stroke="none"/>
<circle cx="105.0" cy="103.7" r="1.25" stroke="none"/>
<circle cx="111.0" cy="104.4" r="1.25" stroke="none"/>
<circle cx="117.1" cy="105.1" r="1.25" stroke="none"/>
<circle cx="123.4" cy="105.5" r="1.25" stroke="none"/>
<circle cx="129.5" cy="106.2" r="1.25" stroke="none"/>
<circle cx="135.5" cy="107.9" r="1.25" stroke="none"/>
<circle cx="141.7" cy="108.9" r="1.25" stroke="none"/>
<circle cx="147.7" cy="110.0" r="1.25" stroke="none"/>
<circle cx="153.9" cy="110.7" r="1.25" stroke="none"/>
<circle cx="160.2" cy="112.1" r="1.25" stroke="none"/>
<circle cx="166.2" cy="116.3" r="1.1" stroke="none"/>
<path d="M166.2,115.3V117.4M165.0,115.3h2.4M165.0,117.4h2.4" fill="none"/>
<circle cx="172.2" cy="116.9" r="1.1" stroke="none"/>
<path d="M172.2,115.6V118.4M171.0,115.6h2.4M171.0,118.4h2.4" fill="none"/>
<circle cx="178.2" cy="119.3" r="1.1" stroke="none"/>
<path d="M178.2,117.8V121.2M177.0,117.8h2.4M177.0,121.2h2.4" fill="none"/>
<circle cx="184.3" cy="123.4" r="1.1" stroke="none"/>
<path d="M184.3,121.5V125.3M183.1,121.5h2.4M183.1,125.3h2.4" fill="none"/>
<circle cx="190.6" cy="128.6" r="1.1" stroke="none"/>
<path d="M190.6,125.8V132.3M189.4,125.8h2.4M189.4,132.3h2.4" fill="none"/>
<circle cx="196.7" cy="127.7" r="1.1" stroke="none"/>
<path d="M196.7,124.5V130.5M195.5,124.5h2.4M195.5,130.5h2.4" fill="none"/>
<circle cx="202.9" cy="139.8" r="1.1" stroke="none"/>
<path d="M202.9,136.0V145.3M201.7,136.0h2.4M201.7,145.3h2.4" fill="none"/>
<circle cx="208.8" cy="144.4" r="1.1" stroke="none"/>
<path d="M208.8,138.8V151.9M207.6,138.8h2.4M207.6,151.9h2.4" fill="none"/>
<circle cx="215.0" cy="145.0" r="1.1" stroke="none"/>
<path d="M215.0,138.8V155.2M213.8,138.8h2.4M213.8,155.2h2.4" fill="none"/>
</g>
<g fill="#0000ff" stroke="#0000ff" stroke-width="0.8">
<circle cx="80.3" cy="126.7" r="1.25" stroke="none"/>
<circle cx="85.1" cy="127.9" r="1.25" stroke="none"/>
<circle cx="90.1" cy="128.6" r="1.25" stroke="none"/>
<circle cx="95.1" cy="129.5" r="1.25" stroke="none"/>
<circle cx="100.0" cy="131.8" r="1.25" stroke="none"/>
<circle cx="105.0" cy="133.8" r="1.25" stroke="none"/>
<circle cx="109.7" cy="135.1" r="1.25" stroke="none"/>
<circle cx="114.7" cy="137.0" r="1.25" stroke="none"/>
<circle cx="119.5" cy="139.8" r="1.25" stroke="none"/>
<circle cx="124.5" cy="141.6" r="1.25" stroke="none"/>
<circle cx="129.6" cy="146.3" r="1.25" stroke="none"/>
<circle cx="134.4" cy="149.6" r="1.25" stroke="none"/>
<circle cx="139.4" cy="151.9" r="1.25" stroke="none"/>
<circle cx="144.0" cy="152.8" r="1.1" stroke="none"/>
<path d="M144.0,151.4V154.4M142.8,151.4h2.4M142.8,154.4h2.4" fill="none"/>
<circle cx="148.9" cy="158.7" r="1.1" stroke="none"/>
<path d="M148.9,156.5V161.2M147.7,156.5h2.4M147.7,161.2h2.4" fill="none"/>
<circle cx="154.0" cy="172.1" r="1.1" stroke="none"/>
<path d="M154.0,168.4V176.7M152.8,168.4h2.4M152.8,176.7h2.4" fill="none"/>
<circle cx="159.0" cy="173.4" r="1.1" stroke="none"/>
<path d="M159.0,169.3V179.5M157.8,169.3h2.4M157.8,179.5h2.4" fill="none"/>
<circle cx="163.8" cy="178.2" r="1.1" stroke="none"/>
<path d="M163.8,173.0V187.5M162.6,173.0h2.4M162.6,187.5h2.4" fill="none"/>
<circle cx="173.7" cy="174.0" r="1.1" stroke="none"/>
<path d="M173.7,167.8V184.2M172.5,167.8h2.4M172.5,184.2h2.4" fill="none"/>
</g>
<g fill="#8a8aff" stroke="#8a8aff" stroke-width="0.8">
<circle cx="80.8" cy="228.4" r="1.1" stroke="none"/>
<path d="M80.8,223.9V234.5M79.6,223.9h2.4M79.6,234.5h2.4" fill="none"/>
<circle cx="84.3" cy="237.7" r="1.1" stroke="none"/>
<path d="M84.3,231.4V248.5M83.1,231.4h2.4M83.1,248.5h2.4" fill="none"/>
<circle cx="87.7" cy="239.2" r="1.1" stroke="none"/>
<path d="M87.7,232.1V252.2M86.5,232.1h2.4M86.5,252.2h2.4" fill="none"/>
</g>
<path d="M379.1,59.4H71.3V272.4H379.1" fill="none" stroke="#000" stroke-width="1" stroke-linecap="square"/>
<path d="M379.1,59.4V272.4" fill="none" stroke="#444" stroke-width="1"/>
<path d="M84.54,272.4v-2.1M84.54,59.4v2.1M92.28,272.4v-2.1M92.28,59.4v2.1M97.77,272.4v-2.1M97.77,59.4v2.1M102.03,272.4v-2.1M102.03,59.4v2.1M105.52,272.4v-2.1M105.52,59.4v2.1M108.46,272.4v-2.1M108.46,59.4v2.1M111.01,272.4v-2.1M111.01,59.4v2.1M113.26,272.4v-2.1M113.26,59.4v2.1M115.27,272.4v-3.3M115.27,59.4v3.3M128.51,272.4v-2.1M128.51,59.4v2.1M136.25,272.4v-2.1M136.25,59.4v2.1M141.74,272.4v-2.1M141.74,59.4v2.1M146.01,272.4v-2.1M146.01,59.4v2.1M149.49,272.4v-2.1M149.49,59.4v2.1M152.43,272.4v-2.1M152.43,59.4v2.1M154.98,272.4v-2.1M154.98,59.4v2.1M157.23,272.4v-2.1M157.23,59.4v2.1M159.24,272.4v-3.3M159.24,59.4v3.3M172.48,272.4v-2.1M172.48,59.4v2.1M180.22,272.4v-2.1M180.22,59.4v2.1M185.72,272.4v-2.1M185.72,59.4v2.1M189.98,272.4v-2.1M189.98,59.4v2.1M193.46,272.4v-2.1M193.46,59.4v2.1M196.40,272.4v-2.1M196.40,59.4v2.1M198.95,272.4v-2.1M198.95,59.4v2.1M201.20,272.4v-2.1M201.20,59.4v2.1M203.21,272.4v-3.3M203.21,59.4v3.3M216.45,272.4v-2.1M216.45,59.4v2.1M224.19,272.4v-2.1M224.19,59.4v2.1M229.69,272.4v-2.1M229.69,59.4v2.1M233.95,272.4v-2.1M233.95,59.4v2.1M237.43,272.4v-2.1M237.43,59.4v2.1M240.37,272.4v-2.1M240.37,59.4v2.1M242.92,272.4v-2.1M242.92,59.4v2.1M245.17,272.4v-2.1M245.17,59.4v2.1M247.19,272.4v-3.3M247.19,59.4v3.3M260.42,272.4v-2.1M260.42,59.4v2.1M268.17,272.4v-2.1M268.17,59.4v2.1M273.66,272.4v-2.1M273.66,59.4v2.1M277.92,272.4v-2.1M277.92,59.4v2.1M281.40,272.4v-2.1M281.40,59.4v2.1M284.35,272.4v-2.1M284.35,59.4v2.1M286.90,272.4v-2.1M286.90,59.4v2.1M289.15,272.4v-2.1M289.15,59.4v2.1M291.16,272.4v-3.3M291.16,59.4v3.3M304.39,272.4v-2.1M304.39,59.4v2.1M312.14,272.4v-2.1M312.14,59.4v2.1M317.63,272.4v-2.1M317.63,59.4v2.1M321.89,272.4v-2.1M321.89,59.4v2.1M325.37,272.4v-2.1M325.37,59.4v2.1M328.32,272.4v-2.1M328.32,59.4v2.1M330.87,272.4v-2.1M330.87,59.4v2.1M333.12,272.4v-2.1M333.12,59.4v2.1M335.13,272.4v-3.3M335.13,59.4v3.3M348.37,272.4v-2.1M348.37,59.4v2.1M356.11,272.4v-2.1M356.11,59.4v2.1M361.60,272.4v-2.1M361.60,59.4v2.1M365.86,272.4v-2.1M365.86,59.4v2.1M369.34,272.4v-2.1M369.34,59.4v2.1M372.29,272.4v-2.1M372.29,59.4v2.1M374.84,272.4v-2.1M374.84,59.4v2.1M377.09,272.4v-2.1M377.09,59.4v2.1M71.3,262.23h2.1M379.1,262.23h-2.1M71.3,256.27h2.1M379.1,256.27h-2.1M71.3,252.05h2.1M379.1,252.05h-2.1M71.3,248.77h2.1M379.1,248.77h-2.1M71.3,246.10h2.1M379.1,246.10h-2.1M71.3,243.84h2.1M379.1,243.84h-2.1M71.3,241.88h2.1M379.1,241.88h-2.1M71.3,240.15h2.1M379.1,240.15h-2.1M71.3,238.60h3.3M379.1,238.60h-3.3M71.3,228.43h2.1M379.1,228.43h-2.1M71.3,222.47h2.1M379.1,222.47h-2.1M71.3,218.25h2.1M379.1,218.25h-2.1M71.3,214.97h2.1M379.1,214.97h-2.1M71.3,212.30h2.1M379.1,212.30h-2.1M71.3,210.04h2.1M379.1,210.04h-2.1M71.3,208.08h2.1M379.1,208.08h-2.1M71.3,206.35h2.1M379.1,206.35h-2.1M71.3,204.80h3.3M379.1,204.80h-3.3M71.3,194.63h2.1M379.1,194.63h-2.1M71.3,188.67h2.1M379.1,188.67h-2.1M71.3,184.45h2.1M379.1,184.45h-2.1M71.3,181.17h2.1M379.1,181.17h-2.1M71.3,178.50h2.1M379.1,178.50h-2.1M71.3,176.24h2.1M379.1,176.24h-2.1M71.3,174.28h2.1M379.1,174.28h-2.1M71.3,172.55h2.1M379.1,172.55h-2.1M71.3,171.00h3.3M379.1,171.00h-3.3M71.3,160.83h2.1M379.1,160.83h-2.1M71.3,154.87h2.1M379.1,154.87h-2.1M71.3,150.65h2.1M379.1,150.65h-2.1M71.3,147.37h2.1M379.1,147.37h-2.1M71.3,144.70h2.1M379.1,144.70h-2.1M71.3,142.44h2.1M379.1,142.44h-2.1M71.3,140.48h2.1M379.1,140.48h-2.1M71.3,138.75h2.1M379.1,138.75h-2.1M71.3,137.20h3.3M379.1,137.20h-3.3M71.3,127.03h2.1M379.1,127.03h-2.1M71.3,121.07h2.1M379.1,121.07h-2.1M71.3,116.85h2.1M379.1,116.85h-2.1M71.3,113.57h2.1M379.1,113.57h-2.1M71.3,110.90h2.1M379.1,110.90h-2.1M71.3,108.64h2.1M379.1,108.64h-2.1M71.3,106.68h2.1M379.1,106.68h-2.1M71.3,104.95h2.1M379.1,104.95h-2.1M71.3,103.40h3.3M379.1,103.40h-3.3M71.3,93.23h2.1M379.1,93.23h-2.1M71.3,87.27h2.1M379.1,87.27h-2.1M71.3,83.05h2.1M379.1,83.05h-2.1M71.3,79.77h2.1M379.1,79.77h-2.1M71.3,77.10h2.1M379.1,77.10h-2.1M71.3,74.84h2.1M379.1,74.84h-2.1M71.3,72.88h2.1M379.1,72.88h-2.1M71.3,71.15h2.1M379.1,71.15h-2.1M71.3,69.60h3.3M379.1,69.60h-3.3" stroke="#000" stroke-width="0.85" fill="none"/>
<g opacity="0.99" stroke="#000" stroke-width="0.22">
<text x="65.4" y="281.3" font-size="8.0" letter-spacing="0.55">10<tspan dy="-3.0" font-size="6.1" letter-spacing="0.3">8</tspan></text>
<text x="109.4" y="281.3" font-size="8.0" letter-spacing="0.55">10<tspan dy="-3.0" font-size="6.1" letter-spacing="0.3">9</tspan></text>
<text x="151.5" y="281.3" font-size="8.0" letter-spacing="0.55">10<tspan dy="-3.0" font-size="6.1" letter-spacing="0.3">10</tspan></text>
<text x="195.5" y="281.3" font-size="8.0" letter-spacing="0.55">10<tspan dy="-3.0" font-size="6.1" letter-spacing="0.3">11</tspan></text>
<text x="239.5" y="281.3" font-size="8.0" letter-spacing="0.55">10<tspan dy="-3.0" font-size="6.1" letter-spacing="0.3">12</tspan></text>
<text x="283.5" y="281.3" font-size="8.0" letter-spacing="0.55">10<tspan dy="-3.0" font-size="6.1" letter-spacing="0.3">13</tspan></text>
<text x="327.4" y="281.3" font-size="8.0" letter-spacing="0.55">10<tspan dy="-3.0" font-size="6.1" letter-spacing="0.3">14</tspan></text>
<text x="371.4" y="281.3" font-size="8.0" letter-spacing="0.55">10<tspan dy="-3.0" font-size="6.1" letter-spacing="0.3">15</tspan></text>
<text transform="translate(66.1,278.7) rotate(-90)" font-size="8.0" letter-spacing="0.55">10<tspan dy="-3.0" font-size="6.1" letter-spacing="0.3">4</tspan></text>
<text transform="translate(66.1,244.9) rotate(-90)" font-size="8.0" letter-spacing="0.55">10<tspan dy="-3.0" font-size="6.1" letter-spacing="0.3">5</tspan></text>
<text transform="translate(66.1,211.1) rotate(-90)" font-size="8.0" letter-spacing="0.55">10<tspan dy="-3.0" font-size="6.1" letter-spacing="0.3">6</tspan></text>
<text transform="translate(66.1,177.3) rotate(-90)" font-size="8.0" letter-spacing="0.55">10<tspan dy="-3.0" font-size="6.1" letter-spacing="0.3">7</tspan></text>
<text transform="translate(66.1,143.5) rotate(-90)" font-size="8.0" letter-spacing="0.55">10<tspan dy="-3.0" font-size="6.1" letter-spacing="0.3">8</tspan></text>
<text transform="translate(66.1,109.7) rotate(-90)" font-size="8.0" letter-spacing="0.55">10<tspan dy="-3.0" font-size="6.1" letter-spacing="0.3">9</tspan></text>
<text transform="translate(66.1,77.7) rotate(-90)" font-size="8.0" letter-spacing="0.55">10<tspan dy="-3.0" font-size="6.1" letter-spacing="0.3">10</tspan></text>
<text transform="translate(348.3,96.9) scale(0.84,1)" font-size="9.4" letter-spacing="0.95" stroke-width="0.12">z=0</text>
<text transform="translate(335.3,120.5) scale(0.84,1)" font-size="9.4" letter-spacing="0.95" stroke-width="0.12">z=1</text>
<text transform="translate(313.1,137.6) scale(0.84,1)" font-size="9.4" letter-spacing="0.95" stroke-width="0.12">z=2</text>
<text transform="translate(273.8,164.6) scale(0.84,1)" font-size="9.4" letter-spacing="0.95" stroke-width="0.12">z=4</text>
<text transform="translate(242.4,178.3) scale(0.84,1)" font-size="9.4" letter-spacing="0.95" stroke-width="0.12">z=6</text>
<text transform="translate(181.0,205.3) scale(0.84,1)" font-size="9.4" letter-spacing="0.95" stroke-width="0.12">z=10</text>
<text transform="translate(88.9,222.1) scale(0.84,1)" font-size="9.4" letter-spacing="0.95" stroke-width="0.12">z=19</text>
<g transform="translate(202.0,297.3)"><text transform="translate(0.0,0) scale(0.9,1)" font-size="8.2">Mass</text><text transform="translate(20.9,0) scale(0.9,1)" font-size="8.2">[</text><text transform="translate(23.7,0) scale(0.9,1)" font-size="8.2">M</text><circle cx="31.4" cy="0.8" r="2.15" fill="none" stroke="#000" stroke-width="0.7"/><circle cx="31.4" cy="0.8" r="0.5"/><text transform="translate(34.0,0) scale(1.6,1)" font-size="8.2" stroke="none">/</text><text transform="translate(39.3,0) scale(0.9,1)" font-size="8.2">h</text><text transform="translate(43.8,0) scale(0.9,1)" font-size="8.2">]</text></g>
<g transform="translate(54.7,210.6) rotate(-90)"><text transform="translate(0.0,0) scale(0.9,1)" font-size="8.2">M</text><text transform="translate(5.5,-3.7) scale(0.9,1)" font-size="6.2">2</text><text transform="translate(11.9,0) scale(0.9,1)" font-size="8.2">d</text><text transform="translate(15.9,0) scale(0.9,1)" font-size="8.2">n</text><text transform="translate(21.0,0) scale(1.7,1)" font-size="8.2" stroke="none">/</text><text transform="translate(25.6,0) scale(0.9,1)" font-size="8.2">d</text><text transform="translate(30.0,0) scale(0.9,1)" font-size="8.2">M</text><text transform="translate(39.6,0) scale(0.9,1)" font-size="8.2">[</text><text transform="translate(42.2,0) scale(0.9,1)" font-size="8.2">M</text><circle cx="50.6" cy="0.8" r="2.15" fill="none" stroke="#000" stroke-width="0.7"/><circle cx="50.6" cy="0.8" r="0.5"/><text transform="translate(57.3,0) scale(0.9,1)" font-size="8.2">h</text><text transform="translate(61.6,-3.7) scale(0.9,1)" font-size="6.2">2</text><text transform="translate(68.8,0) scale(0.9,1)" font-size="8.2">M</text><text transform="translate(74.4,0) scale(0.9,1)" font-size="8.2">p</text><text transform="translate(78.3,0) scale(0.9,1)" font-size="8.2">c</text><text transform="translate(85.2,-3.7) scale(0.9,1)" font-size="6.2" textLength="7.33" lengthAdjust="spacing">−3</text><text transform="translate(92.2,0) scale(0.9,1)" font-size="8.2">]</text></g>
</g>
</svg></body></html>
